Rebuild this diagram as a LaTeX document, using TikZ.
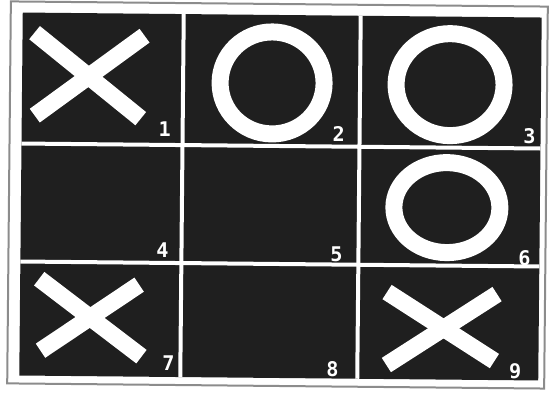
\documentclass[tikz,border=0pt]{standalone}
\usepackage{fontspec}
\newfontfamily\digitfont{DejaVu Sans Mono}

\begin{document}
\begin{tikzpicture}[
  x=0.02cm, y=-0.02cm,
  screen/.style={fill=black!88},
  frame/.style={draw=black!45,line width=0.04cm},
  gridline/.style={draw=white,line width=0.08cm},
  xstroke/.style={draw=white,line width=0.34cm,line cap=butt},
  ostroke/.style={draw=white,line width=0.34cm},
  num/.style={text=white,inner sep=0pt,
    font=\digitfont\bfseries\fontsize{11.5}{11.5}\selectfont}
]
\useasboundingbox[fill=white] (0,0) rectangle (549,393);
\begin{scope}[rotate around={-0.55:(280,196)}]
% screen and board
\draw[frame] (9,4) rectangle (546,386);
\fill[screen] (21,15) rectangle (540,378);
\draw[gridline] (182,15) -- (182,378);
\draw[gridline] (359,15) -- (359,378);
\draw[gridline] (21,146) -- (540,146);
\draw[gridline] (21,264) -- (540,264);

% crosses
\draw[xstroke] (33,35) -- (140,120);
\draw[xstroke] (143,37) -- (34,118);
\draw[xstroke] (40,281) -- (143,358);
\draw[xstroke] (140,286) -- (42,353);
\draw[xstroke] (388,291) -- (496,359);
\draw[xstroke] (498,292) -- (388,364);

% noughts
\draw[ostroke] (271,83) ellipse [x radius=52,y radius=51];
\draw[ostroke] (449,83) ellipse [x radius=54,y radius=51];
\draw[ostroke] (447,206) ellipse [x radius=53,y radius=45];

% cell numbers
\node[num] (n1) at (164,130) {1};
\node[num] (n2) at (338,133) {2};
\node[num] (n3) at (529,134) {3};
\node[num] (n4) at (163,251) {4};
\node[num] (n5) at (337,254) {5};
\node[num] (n6) at (525,256) {6};
\node[num] (n7) at (170,364) {7};
\node[num] (n8) at (334,369) {8};
\node[num] (n9) at (517,369) {9};
\end{scope}
\end{tikzpicture}
\end{document}
